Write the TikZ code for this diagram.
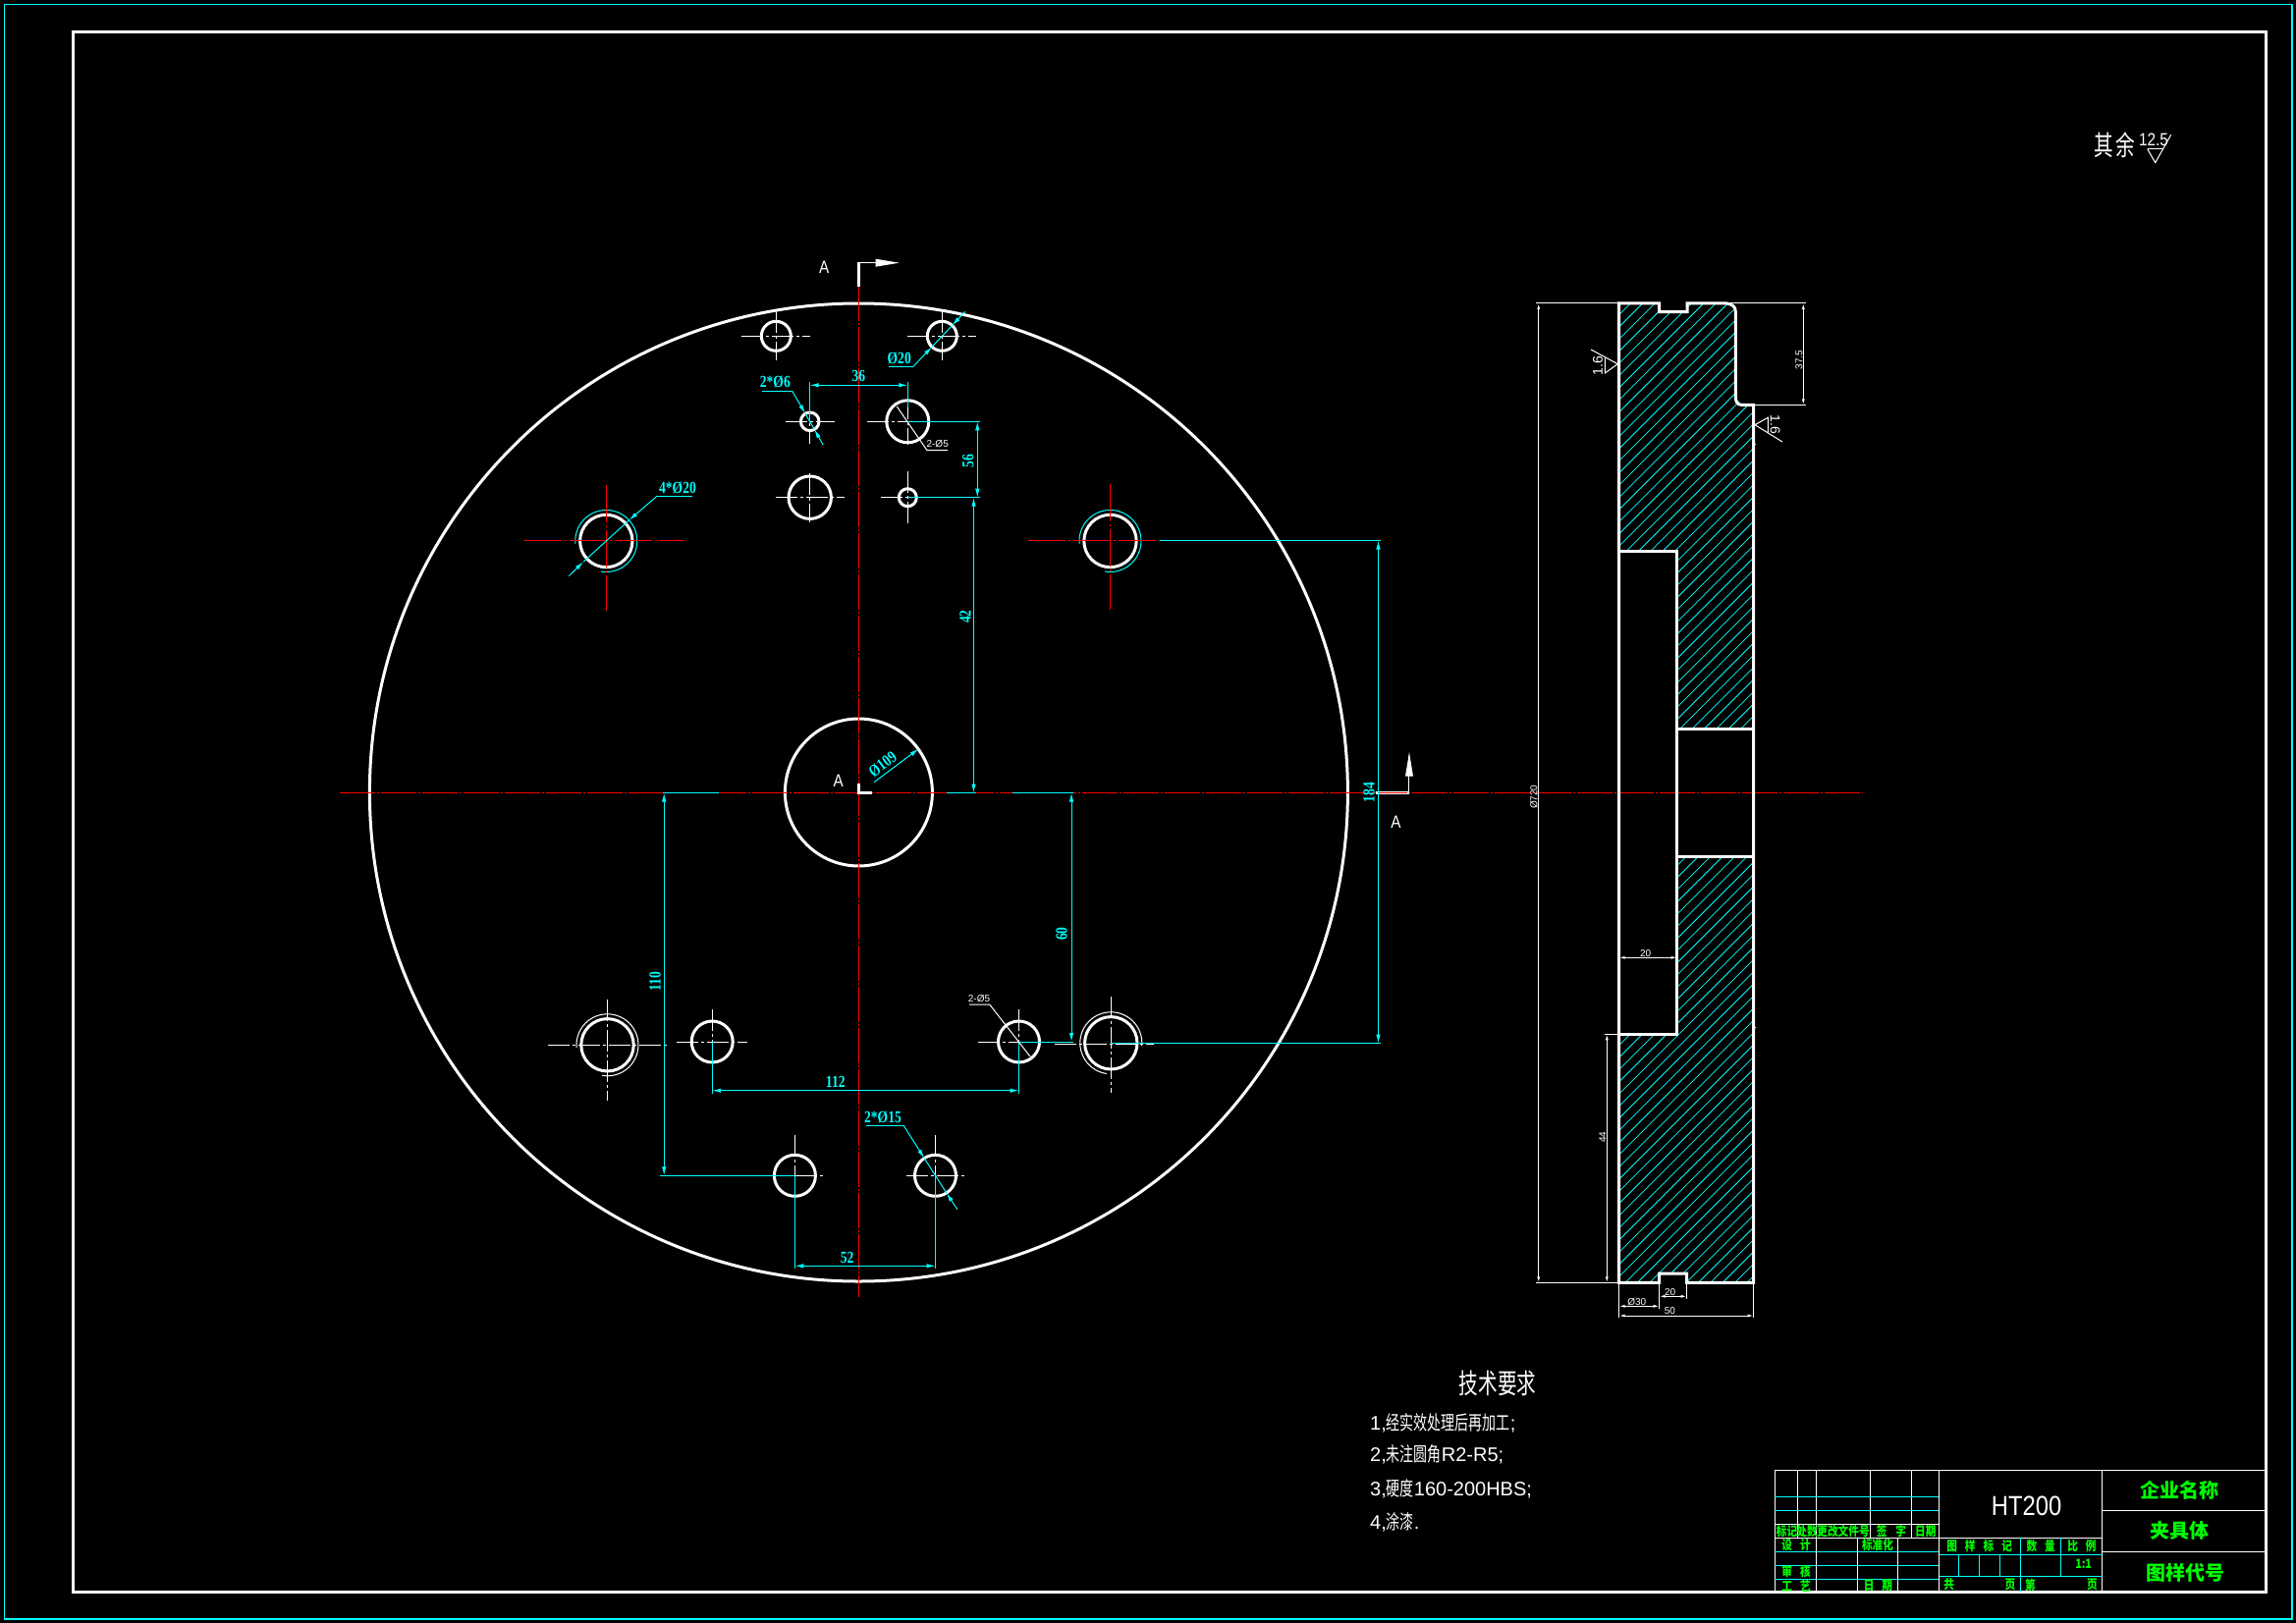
\documentclass[tikz,border=0pt]{standalone}
\usepackage{fontspec}
\setmainfont{Liberation Sans}
\newfontfamily\cjk[FakeStretch=0.7]{Noto Sans CJK SC}
\newfontfamily\cjkb{Noto Sans CJK SC}
\newfontfamily\cjkn[FakeStretch=0.82]{Noto Sans CJK SC}
\newfontfamily\dimfont[FakeStretch=0.8]{Liberation Serif}
\newfontfamily\letterfont[FakeStretch=0.85]{Liberation Sans}
\usetikzlibrary{arrows.meta}
\definecolor{cadcyan}{RGB}{0,255,255}
\definecolor{cadred}{RGB}{255,0,0}
\definecolor{cadgreen}{RGB}{0,255,0}
\tikzset{
  outline/.style={white,line width=3pt},
  thinline/.style={white,line width=1pt},
  tableline/.style={white,line width=1pt},
  tablecyan/.style={cadcyan,line width=1pt},
  hatchline/.style={cadcyan,line width=0.8pt},
  dimline/.style={cadcyan,line width=1pt},
  arcline/.style={cadcyan,line width=1pt},
  cline/.style={white,line width=1pt,dash pattern=on 22pt off 3pt on 3pt off 3pt},
  redline/.style={cadred,line width=1.3pt,dash pattern=on 36pt off 2pt on 2pt off 2pt},
  redcross/.style={cadred,line width=1pt,dash pattern=on 38pt off 3pt on 2pt off 3pt},
  dimtip/.style={>={Latex[length=9pt,width=4.5pt]}},
  smalltip/.style={>={Latex[length=6pt,width=3pt]}},
  dimtext/.style={cadcyan,inner sep=0pt,font=\fontsize{17}{17}\selectfont\bfseries\dimfont},
  smalltext/.style={white,inner sep=0pt,font=\fontsize{10}{10}\selectfont},
  lettertext/.style={white,inner sep=0pt,font=\fontsize{18}{18}\selectfont\letterfont},
  techtext/.style={white,inner sep=0pt,anchor=west,font=\fontsize{20}{20}\selectfont},
  greentext/.style={cadgreen,inner sep=0pt,font=\fontsize{13}{13}\selectfont\bfseries\cjkn},
  bigtext/.style={cadgreen,inner sep=0pt,font=\fontsize{20}{20}\selectfont\bfseries\cjkb},
}
\begin{document}
\begin{tikzpicture}[x=1pt,y=-1pt]
  \useasboundingbox (0,0) rectangle (2338,1653);
  \fill[black] (0,0) rectangle (2338,1653);
  % frames
  \draw[cadcyan,line width=1.5pt] (4.5,4.5) rectangle (2334,1649);
  \draw[white,line width=3pt] (74,32.5) rectangle (2307,1621);

  % front view
  \coordinate (mid) at (874.4,807);
  \draw[outline] (mid) circle (498);
  \draw[outline] (mid) circle (75);
  \foreach \hx/\hy/\hr/\ex/\ey in {
      790.3/342.3/15/35/25, 959.3/342.3/15/35/25,
      824.7/429.3/9.3/25/23, 924.3/429.3/21.5/41/24,
      824.7/506.7/21.7/35/25, 924.3/506.7/9/27/27,
      725.2/1061/21/36/33, 1037.5/1061/21/42/33,
      809.4/1197.3/21/30/41, 952.5/1197.3/21/30/41}{
    \draw[outline] (\hx,\hy) circle (\hr);
    \draw[cline] ({\hx-\ex},\hy) -- ({\hx+\ex},\hy);
    \draw[cline] (\hx,{\hy-\ey}) -- (\hx,{\hy+\ey});
  }
  % four large holes
  \foreach \hx/\hy in {617.3/551, 1130.5/551, 618.5/1064.3, 1131.3/1062.3}{
    \draw[outline] (\hx,\hy) circle (26.7);
  }
  \draw[arcline] (617.3,551) ++(175:31.5) arc (175:460:31.5);
  \draw[arcline] (1130.5,551) ++(175:31.5) arc (175:460:31.5);
  \draw[thinline] (618.5,1064.3) ++(175:31.5) arc (175:460:31.5);
  \draw[thinline] (1131.3,1062.3) ++(5:31.5) arc (5:-262:31.5);
  \draw[redcross] (534,550.5) -- (697,550.5);
  \draw[redcross] (617.5,494) -- (617.5,622);
  \draw[redcross] (1047,550.5) -- (1181,550.5);
  \draw[redcross] (1130.5,493.3) -- (1130.5,620.7);
  \draw[cline] (558,1064.3) -- (678.5,1064.3);
  \draw[cline] (618.5,1017.7) -- (618.5,1120.7);
  \draw[cline] (1074,1063) -- (1175,1063);
  \draw[cline] (1131.3,1015) -- (1131.3,1113);

  % center lines
  \draw[redline] (346,807.5) -- (1897,807.5);
  \draw[redline] (874.5,291) -- (874.5,1321);

  % section marks
  \draw[white,line width=3pt] (874.4,266.7) -- (874.4,291.7);
  \draw[thinline] (874.4,267.7) -- (892,267.7);
  \fill[white] (891.7,263.7) -- (915.7,267.7) -- (891.7,271.7) -- cycle;
  \node[lettertext] (markA1) at (839.3,272.7) {A};
  \draw[white,line width=3pt] (874.3,797.7) -- (874.3,807.5) -- (888,807.5);
  \node[lettertext] (markA2) at (853.7,795) {A};
  \draw[white,line width=3.5pt] (1401,807.5) -- (1435,807.5);
  \draw[cadred,line width=1.2pt] (1404,807.5) -- (1433,807.5);
  \draw[thinline] (1434.9,807) -- (1434.9,790);
  \fill[white] (1431,790.7) -- (1435,766) -- (1439,790.7) -- cycle;
  \node[lettertext] (markA3) at (1421.5,837.3) {A};

  % dimensions, front view
  \begin{scope}[dimtip]
    \draw[dimline] (824.7,389) -- (824.7,429.3);
    \draw[dimline] (924.3,389) -- (924.3,415);
    \draw[dimline,<->] (824.7,392.3) -- (924.3,392.3);
    \node[dimtext] (d36) at (874.3,383) {36};
    \draw[dimline] (905,373.3) -- (930,373.3);
    \draw[dimline,->] (930,373.3) -- (949,353.2);
    \draw[arcline] (949,353.2) -- (969.6,331.4);
    \draw[dimline,->] (982.7,317.3) -- (969.6,331.4);
    \node[dimtext] (d20) at (915.7,365) {Ø20};
    \draw[dimline] (776,398.3) -- (806.7,398.3);
    \draw[dimline,->] (806.7,398.3) -- (820,421.2);
    \draw[arcline] (820,421.2) -- (829.3,437.4);
    \draw[dimline,->] (838.3,453.3) -- (829.3,437.4);
    \node[dimtext] (d6) at (789.3,389) {2*Ø6};
    \draw[dimline] (924.3,429.3) -- (997.7,429.3);
    \draw[dimline] (924.3,506.7) -- (997.7,506.7);
    \draw[dimline,<->] (995.3,429.3) -- (995.3,506.7);
    \node[dimtext,rotate=90] (d56) at (985.7,469.3) {56};
    \draw[dimline] (964.4,807.5) -- (994.3,807.5);
    \draw[dimline,<->] (991.5,506.7) -- (991.5,807.5);
    \node[dimtext,rotate=90] (d42) at (983,628) {42};
    \draw[dimline] (1031,807.5) -- (1093,807.5);
    \draw[dimline] (1037.5,1061) -- (1093,1061);
    \draw[dimline,<->] (1091,807.5) -- (1091,1061);
    \node[dimtext,rotate=90] (d60) at (1081,951) {60};
    \draw[dimline] (675,807.5) -- (732,807.5);
    \draw[dimline] (672,1197.3) -- (809.4,1197.3);
    \draw[dimline,<->] (676.2,807.5) -- (676.2,1197.3);
    \node[dimtext,rotate=90] (d110) at (667,999.3) {110};
    \draw[dimline] (1181,550.5) -- (1405.7,550.5);
    \draw[dimline] (1131.3,1062.5) -- (1405.7,1062.5);
    \draw[dimline,<->] (1403.5,550.5) -- (1403.5,1062.5);
    \node[dimtext,rotate=90] (d184) at (1394,807) {184};
    \draw[dimline] (725.2,1061) -- (725.2,1113.7);
    \draw[dimline] (1037.5,1061) -- (1037.5,1113.7);
    \draw[dimline,<->] (725.2,1110.7) -- (1037.5,1110.7);
    \node[dimtext] (d112) at (850.8,1101.7) {112};
    \draw[dimline] (809.4,1197.3) -- (809.4,1292);
    \draw[dimline] (952.5,1197.3) -- (952.5,1292);
    \draw[dimline,<->] (809.4,1289.3) -- (952.5,1289.3);
    \node[dimtext] (d52) at (862.6,1280.7) {52};
    \draw[dimline] (881.7,1146) -- (920,1146);
    \draw[dimline,->] (920,1146) -- (941.2,1179.6);
    \draw[arcline] (941.2,1179.6) -- (963.8,1215);
    \draw[dimline,->] (974.8,1231.7) -- (963.8,1215);
    \node[dimtext] (d15) at (899,1137.7) {2*Ø15};
    \draw[dimline,->] (890,796.7) -- (935.4,762.7);
    \node[dimtext,rotate=37] (d109) at (898.8,778.3) {Ø109};
    \draw[dimline] (705,505) -- (669.3,505);
    \draw[dimline,->] (669.3,505) -- (640.6,529.8);
    \draw[arcline] (640.6,529.8) -- (594,572.2);
    \draw[dimline,->] (579.3,586.7) -- (594,572.2);
    \node[dimtext] (d4) at (690,497) {4*Ø20};
  \end{scope}
  % small white leaders
  \draw[thinline] (965,458.7) -- (944,458.7) -- (913.3,414);
  \node[smalltext] (e1) at (954.7,452.5) {2-Ø5};
  \draw[thinline] (987,1023) -- (1007.7,1023) -- (1049,1076);
  \node[smalltext] (e2) at (997,1017.5) {2-Ø5};

  % side view hatching
  \begin{scope}
    \clip (1648.7,309) -- (1689.7,309) -- (1689.7,317.7) -- (1718,317.7) -- (1718,309) -- (1758.3,309)
      -- (1767.3,317.7) -- (1767.3,403.3) -- (1773.3,412.3) -- (1785.7,412.3)
      -- (1785.7,742.5) -- (1707.7,742.5) -- (1707.7,561.7) -- (1648.7,561.7) -- cycle
      (1707.7,872) -- (1785.7,872) -- (1785.7,1306.3) -- (1717.7,1306.3) -- (1717.7,1297) -- (1689.7,1297)
      -- (1689.7,1306.3) -- (1648.7,1306.3) -- (1648.7,1053.3) -- (1707.7,1053.3) -- cycle;
    \foreach \c in {0,...,92}{
      \draw[hatchline] (1640,{316.9+\c*12.4}) -- ++(160,-160);
    }
  \end{scope}
  % side view outline
  \draw[outline] (1648.7,309) -- (1689.7,309) -- (1689.7,317.7) -- (1718,317.7) -- (1718,309) -- (1758.3,309)
    .. controls (1764,310) and (1767.3,312) .. (1767.3,317.7) -- (1767.3,403.3)
    .. controls (1767.3,409) and (1769,412.3) .. (1773.3,412.3) -- (1785.7,412.3) -- (1785.7,1306.3)
    -- (1717.7,1306.3) -- (1717.7,1297) -- (1689.7,1297) -- (1689.7,1306.3) -- (1648.7,1306.3) -- cycle;
  \draw[outline] (1648.7,561.7) -- (1707.7,561.7) -- (1707.7,1053.3) -- (1648.7,1053.3);
  \draw[outline] (1707.7,742.5) -- (1785.7,742.5);
  \draw[outline] (1707.7,872) -- (1785.7,872);
  \draw[thinline] (1785.7,452.3) -- (1788,452.3);
  \draw[thinline] (1785.7,1046) -- (1788,1046);

  % dimensions, side view
  \begin{scope}[smalltip]
    \draw[thinline] (1564,309) -- (1648.7,309);
    \draw[thinline] (1564,1306.3) -- (1648.7,1306.3);
    \draw[thinline,<->] (1566.7,309) -- (1566.7,1306.3);
    \node[smalltext,rotate=90] (s720) at (1562,811.7) {Ø720};
    \draw[thinline] (1758,309) -- (1839,309);
    \draw[thinline] (1785.7,412.3) -- (1839,412.3);
    \draw[thinline,<->] (1836.3,309) -- (1836.3,412.3);
    \node[smalltext,rotate=90] (s375) at (1832,366.7) {37.5};
    \draw[thinline] (1634,1053.3) -- (1648.7,1053.3);
    \draw[thinline,<->] (1636.3,1053.3) -- (1636.3,1306.3);
    \node[smalltext,rotate=90] (s44) at (1632,1158) {44};
    \draw[thinline,<->] (1648.7,975.3) -- (1707.7,975.3);
    \node[smalltext] (s20a) at (1675.7,971) {20};
    \draw[thinline] (1689.7,1306.3) -- (1689.7,1332.7);
    \draw[thinline] (1717.7,1306.3) -- (1717.7,1322.7);
    \draw[thinline] (1648.7,1306.3) -- (1648.7,1341.7);
    \draw[thinline] (1785.7,1306.3) -- (1785.7,1341.7);
    \draw[thinline,<->] (1689.7,1320.3) -- (1717.7,1320.3);
    \node[smalltext] (s20b) at (1700.7,1316) {20};
    \draw[thinline,<->] (1648.7,1330.3) -- (1689.7,1330.3);
    \node[smalltext] (s30) at (1666.7,1326.5) {Ø30};
    \draw[thinline,<->] (1648.7,1340) -- (1785.7,1340);
    \node[smalltext] (s50) at (1700.3,1335.5) {50};
  \end{scope}

  % roughness marks
  \draw[thinline] (1620,356) -- (1647.3,370.7) -- (1634.3,380) -- (1634.3,365);
  \node[smalltext,rotate=90,font=\fontsize{14}{14}\selectfont] (r1) at (1627,372.7) {1.6};
  \draw[thinline] (1815,450) -- (1787,432.7) -- (1800.3,425.3) -- (1800.3,440);
  \node[smalltext,rotate=-90,font=\fontsize{14}{14}\selectfont] (r2) at (1807.7,432.7) {1.6};
  \node[white,inner sep=0pt,font=\fontsize{28}{28}\selectfont\cjk] (other) at (2153,148) {其\hspace{2pt}余};
  \node[white,inner sep=0pt,font=\fontsize{18}{18}\selectfont\letterfont] (r3) at (2193,142.7) {12.5};
  \draw[thinline] (2186.7,151.7) -- (2202.7,151.7);
  \draw[thinline] (2186.7,151.7) -- (2194.7,165.7) -- (2210.7,137.3);

  % technical notes
  \node[white,inner sep=0pt,font=\fontsize{28}{28}\selectfont\cjk] (notes) at (1525,1409) {技术要求};
  \node[techtext] (n1) at (1395,1449.3) {1,{\cjk 经实效处理后再加工};};
  \node[techtext] (n2) at (1395,1481.7) {2,{\cjk 未注圆角}R2-R5;};
  \node[techtext] (n3) at (1395,1516) {3,{\cjk 硬度}160-200HBS;};
  \node[techtext] (n4) at (1395,1550) {4,{\cjk 涂漆}.};

  % title block
  \draw[white,line width=1.5pt] (1807.4,1621) -- (1807.4,1497.3) -- (2307,1497.3);
  \foreach \tx in {1830.5,1849.8,1904.6,1946.2}{
    \draw[tableline] (\tx,1497.3) -- (\tx,1566.3);
  }
  \foreach \ty in {1524.3,1538.3}{
    \draw[tablecyan] (1807.4,\ty) -- (1974.7,\ty);
  }
  \draw[tableline] (1807.4,1552.3) -- (1974.7,1552.3);
  \draw[tableline] (1807.4,1566.3) -- (2140.5,1566.3);
  \foreach \ty in {1580.3,1594.3,1608.3}{
    \draw[tablecyan] (1807.4,\ty) -- (1974.7,\ty);
  }
  \foreach \tx in {1849.8,1891.4,1932.3}{
    \draw[tableline] (\tx,1566.3) -- (\tx,1621);
  }
  \draw[tableline] (1974.7,1497.3) -- (1974.7,1621);
  \draw[tableline] (2140.5,1497.3) -- (2140.5,1621);
  \draw[tablecyan] (1974.7,1583.3) -- (2140.5,1583.3);
  \draw[tablecyan] (1974.7,1605.3) -- (2140.5,1605.3);
  \foreach \tx in {1994.2,2015.2,2036.2}{
    \draw[tablecyan] (\tx,1583.3) -- (\tx,1605.3);
  }
  \draw[tablecyan] (2057.2,1566.3) -- (2057.2,1621);
  \draw[tablecyan] (2098.5,1566.3) -- (2098.5,1605.3);
  \draw[tableline] (2140.5,1538.3) -- (2307,1538.3);
  \draw[tableline] (2140.5,1580.3) -- (2307,1580.3);

  \node[white,inner sep=0pt,font=\fontsize{28}{28}\selectfont\letterfont] (material) at (2063.6,1534.3) {HT200};
  \node[bigtext] (company) at (2219.5,1517.3) {企业名称};
  \node[bigtext] (partname) at (2219.9,1559) {夹具体};
  \node[bigtext] (drawingno) at (2225.5,1601.7) {图样代号};
  \node[greentext] (g1) at (1819.5,1559.3) {标记};
  \node[greentext] (g2) at (1840,1559.3) {处数};
  \node[greentext] (g3) at (1877,1559.3) {更改文件号};
  \node[greentext] (g4) at (1925.9,1559.3) {签\hspace{9pt}字};
  \node[greentext] (g5) at (1960.8,1559.3) {日期};
  \node[greentext] (g6) at (1829,1574) {设\hspace{8pt}计};
  \node[greentext] (g7) at (1912,1574) {标准化};
  \node[greentext] (g8) at (1829,1600.7) {审\hspace{8pt}核};
  \node[greentext] (g9) at (1829,1615) {工\hspace{8pt}艺};
  \node[greentext] (g10) at (1912.4,1615) {日\hspace{8pt}期};
  \node[greentext] (g11) at (2015.6,1575) {图\hspace{8pt}样\hspace{8pt}标\hspace{8pt}记};
  \node[greentext] (g12) at (2078.2,1575) {数\hspace{8pt}量};
  \node[greentext] (g13) at (2119.9,1575) {比\hspace{8pt}例};
  \node[greentext] (g14) at (2121.6,1593.3) {1:1};
  \node[greentext] (g15) at (1984.6,1614) {共};
  \node[greentext] (g16) at (2047,1614) {页};
  \node[greentext] (g17) at (2067.5,1614) {第};
  \node[greentext] (g18) at (2130.5,1614) {页};
\end{tikzpicture}
\end{document}
